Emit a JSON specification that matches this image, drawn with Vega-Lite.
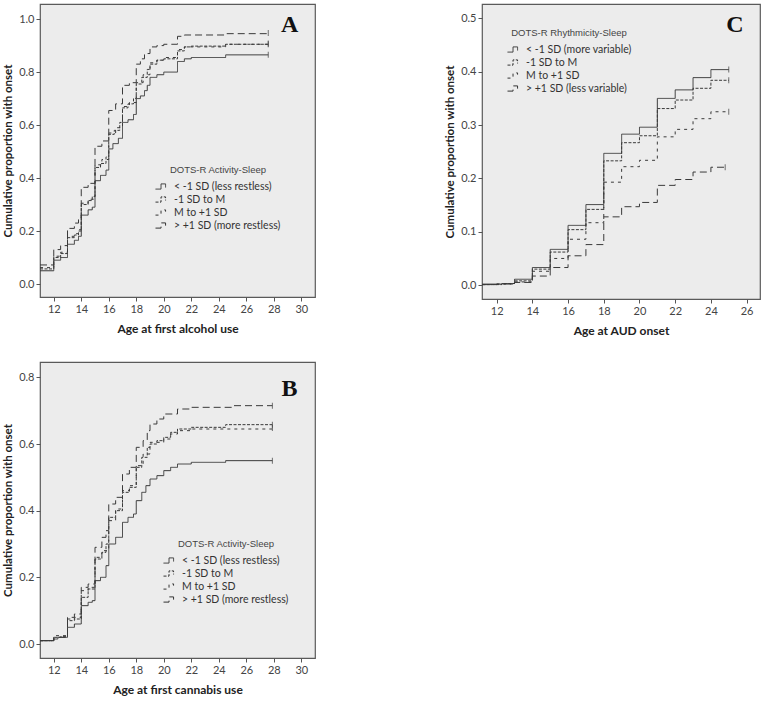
{
  "$schema": "https://vega.github.io/schema/vega-lite/v6.json",
  "background": "white",
  "padding": {"left": 2, "top": 3, "right": 0, "bottom": 2},
  "config": {
    "view": {"fill": "#ececec", "stroke": "#5a5a5a", "strokeWidth": 1.2},
    "font": "Lato",
    "axis": {"grid": false, "domain": false, "tickColor": "#555", "tickSize": 4, "tickCount": 30, "labelFont": "Lato", "labelFontSize": 11, "labelColor": "#444", "labelPadding": 2, "labelOverlap": false, "titleFont": "Lato", "titleFontSize": 11.5, "titleFontWeight": "bold", "titleColor": "#222"},
    "axisX": {"titlePadding": 9, "titleFontSize": 12},
    "axisY": {"titlePadding": 5},
    "legend": {"titleFont": "Liberation Sans", "titleFontSize": 9.5, "titleFontWeight": "normal", "titleColor": "#444", "titleAnchor": "middle", "labelFont": "Lato", "labelFontSize": 10.5, "labelColor": "#333", "symbolType": "M-1,0.4H-0.15V-0.4H0.55V0.15", "symbolSize": 169, "symbolStrokeWidth": 1, "symbolStrokeColor": "#333", "symbolFillColor": "transparent", "rowPadding": 0, "labelOffset": 5, "titlePadding": 5}
  },
  "datasets": {
    "alc": [
      {"g": "< -1 SD (less restless)", "age": 11, "p": 0.05},
      {"g": "< -1 SD (less restless)", "age": 12, "p": 0.09},
      {"g": "< -1 SD (less restless)", "age": 12.5, "p": 0.1},
      {"g": "< -1 SD (less restless)", "age": 13, "p": 0.15},
      {"g": "< -1 SD (less restless)", "age": 13.5, "p": 0.165},
      {"g": "< -1 SD (less restless)", "age": 13.8, "p": 0.18},
      {"g": "< -1 SD (less restless)", "age": 14, "p": 0.26},
      {"g": "< -1 SD (less restless)", "age": 14.5, "p": 0.28},
      {"g": "< -1 SD (less restless)", "age": 14.8, "p": 0.29},
      {"g": "< -1 SD (less restless)", "age": 15, "p": 0.39},
      {"g": "< -1 SD (less restless)", "age": 15.4, "p": 0.41},
      {"g": "< -1 SD (less restless)", "age": 15.8, "p": 0.43},
      {"g": "< -1 SD (less restless)", "age": 16, "p": 0.51},
      {"g": "< -1 SD (less restless)", "age": 16.3, "p": 0.53},
      {"g": "< -1 SD (less restless)", "age": 16.7, "p": 0.55},
      {"g": "< -1 SD (less restless)", "age": 17, "p": 0.61},
      {"g": "< -1 SD (less restless)", "age": 17.4, "p": 0.62},
      {"g": "< -1 SD (less restless)", "age": 17.8, "p": 0.64},
      {"g": "< -1 SD (less restless)", "age": 18, "p": 0.7},
      {"g": "< -1 SD (less restless)", "age": 18.3, "p": 0.71},
      {"g": "< -1 SD (less restless)", "age": 18.6, "p": 0.73},
      {"g": "< -1 SD (less restless)", "age": 18.8, "p": 0.75},
      {"g": "< -1 SD (less restless)", "age": 19, "p": 0.78},
      {"g": "< -1 SD (less restless)", "age": 19.5, "p": 0.79},
      {"g": "< -1 SD (less restless)", "age": 20, "p": 0.8},
      {"g": "< -1 SD (less restless)", "age": 21, "p": 0.84},
      {"g": "< -1 SD (less restless)", "age": 21.5, "p": 0.85},
      {"g": "< -1 SD (less restless)", "age": 22, "p": 0.855},
      {"g": "< -1 SD (less restless)", "age": 24.5, "p": 0.865},
      {"g": "< -1 SD (less restless)", "age": 27.6, "p": 0.865},
      {"g": "-1 SD to M", "age": 11, "p": 0.057},
      {"g": "-1 SD to M", "age": 12, "p": 0.1},
      {"g": "-1 SD to M", "age": 12.5, "p": 0.115},
      {"g": "-1 SD to M", "age": 13, "p": 0.175},
      {"g": "-1 SD to M", "age": 13.5, "p": 0.185},
      {"g": "-1 SD to M", "age": 13.8, "p": 0.2},
      {"g": "-1 SD to M", "age": 14, "p": 0.3},
      {"g": "-1 SD to M", "age": 14.5, "p": 0.315},
      {"g": "-1 SD to M", "age": 14.8, "p": 0.33},
      {"g": "-1 SD to M", "age": 15, "p": 0.44},
      {"g": "-1 SD to M", "age": 15.4, "p": 0.455},
      {"g": "-1 SD to M", "age": 15.8, "p": 0.48},
      {"g": "-1 SD to M", "age": 16, "p": 0.565},
      {"g": "-1 SD to M", "age": 16.4, "p": 0.58},
      {"g": "-1 SD to M", "age": 16.8, "p": 0.61},
      {"g": "-1 SD to M", "age": 17, "p": 0.665},
      {"g": "-1 SD to M", "age": 17.4, "p": 0.68},
      {"g": "-1 SD to M", "age": 17.8, "p": 0.7},
      {"g": "-1 SD to M", "age": 18, "p": 0.755},
      {"g": "-1 SD to M", "age": 18.4, "p": 0.78},
      {"g": "-1 SD to M", "age": 18.8, "p": 0.81},
      {"g": "-1 SD to M", "age": 19, "p": 0.83},
      {"g": "-1 SD to M", "age": 19.5, "p": 0.845},
      {"g": "-1 SD to M", "age": 20, "p": 0.85},
      {"g": "-1 SD to M", "age": 21, "p": 0.88},
      {"g": "-1 SD to M", "age": 21.5, "p": 0.895},
      {"g": "-1 SD to M", "age": 22, "p": 0.898},
      {"g": "-1 SD to M", "age": 24.5, "p": 0.905},
      {"g": "-1 SD to M", "age": 27.6, "p": 0.905},
      {"g": "M to +1 SD", "age": 11, "p": 0.062},
      {"g": "M to +1 SD", "age": 12, "p": 0.105},
      {"g": "M to +1 SD", "age": 12.5, "p": 0.12},
      {"g": "M to +1 SD", "age": 13, "p": 0.18},
      {"g": "M to +1 SD", "age": 13.5, "p": 0.19},
      {"g": "M to +1 SD", "age": 13.8, "p": 0.205},
      {"g": "M to +1 SD", "age": 14, "p": 0.305},
      {"g": "M to +1 SD", "age": 14.5, "p": 0.32},
      {"g": "M to +1 SD", "age": 15, "p": 0.45},
      {"g": "M to +1 SD", "age": 15.5, "p": 0.47},
      {"g": "M to +1 SD", "age": 16, "p": 0.57},
      {"g": "M to +1 SD", "age": 16.5, "p": 0.59},
      {"g": "M to +1 SD", "age": 17, "p": 0.67},
      {"g": "M to +1 SD", "age": 17.5, "p": 0.685},
      {"g": "M to +1 SD", "age": 18, "p": 0.76},
      {"g": "M to +1 SD", "age": 18.5, "p": 0.79},
      {"g": "M to +1 SD", "age": 19, "p": 0.835},
      {"g": "M to +1 SD", "age": 19.5, "p": 0.845},
      {"g": "M to +1 SD", "age": 20, "p": 0.855},
      {"g": "M to +1 SD", "age": 21, "p": 0.885},
      {"g": "M to +1 SD", "age": 21.5, "p": 0.895},
      {"g": "M to +1 SD", "age": 24.5, "p": 0.905},
      {"g": "M to +1 SD", "age": 27.6, "p": 0.908},
      {"g": "> +1 SD (more restless)", "age": 11, "p": 0.072},
      {"g": "> +1 SD (more restless)", "age": 12, "p": 0.13},
      {"g": "> +1 SD (more restless)", "age": 12.5, "p": 0.145},
      {"g": "> +1 SD (more restless)", "age": 13, "p": 0.21},
      {"g": "> +1 SD (more restless)", "age": 13.5, "p": 0.23},
      {"g": "> +1 SD (more restless)", "age": 13.8, "p": 0.25},
      {"g": "> +1 SD (more restless)", "age": 14, "p": 0.365},
      {"g": "> +1 SD (more restless)", "age": 14.5, "p": 0.38},
      {"g": "> +1 SD (more restless)", "age": 15, "p": 0.52},
      {"g": "> +1 SD (more restless)", "age": 15.5, "p": 0.54},
      {"g": "> +1 SD (more restless)", "age": 16, "p": 0.655},
      {"g": "> +1 SD (more restless)", "age": 16.5, "p": 0.68},
      {"g": "> +1 SD (more restless)", "age": 17, "p": 0.75},
      {"g": "> +1 SD (more restless)", "age": 17.5, "p": 0.76},
      {"g": "> +1 SD (more restless)", "age": 18, "p": 0.83},
      {"g": "> +1 SD (more restless)", "age": 18.3, "p": 0.85},
      {"g": "> +1 SD (more restless)", "age": 18.6, "p": 0.87},
      {"g": "> +1 SD (more restless)", "age": 19, "p": 0.895},
      {"g": "> +1 SD (more restless)", "age": 19.5, "p": 0.9},
      {"g": "> +1 SD (more restless)", "age": 20, "p": 0.905},
      {"g": "> +1 SD (more restless)", "age": 21, "p": 0.935},
      {"g": "> +1 SD (more restless)", "age": 21.5, "p": 0.94},
      {"g": "> +1 SD (more restless)", "age": 24.5, "p": 0.945},
      {"g": "> +1 SD (more restless)", "age": 27.6, "p": 0.948}
    ],
    "can": [
      {"g": "< -1 SD (less restless)", "age": 11, "p": 0.01},
      {"g": "< -1 SD (less restless)", "age": 12, "p": 0.015},
      {"g": "< -1 SD (less restless)", "age": 12.3, "p": 0.02},
      {"g": "< -1 SD (less restless)", "age": 13, "p": 0.05},
      {"g": "< -1 SD (less restless)", "age": 13.5, "p": 0.06},
      {"g": "< -1 SD (less restless)", "age": 14, "p": 0.115},
      {"g": "< -1 SD (less restless)", "age": 14.5, "p": 0.125},
      {"g": "< -1 SD (less restless)", "age": 14.8, "p": 0.13},
      {"g": "< -1 SD (less restless)", "age": 15, "p": 0.19},
      {"g": "< -1 SD (less restless)", "age": 15.4, "p": 0.2},
      {"g": "< -1 SD (less restless)", "age": 15.8, "p": 0.235},
      {"g": "< -1 SD (less restless)", "age": 16, "p": 0.3},
      {"g": "< -1 SD (less restless)", "age": 16.5, "p": 0.32},
      {"g": "< -1 SD (less restless)", "age": 17, "p": 0.365},
      {"g": "< -1 SD (less restless)", "age": 17.4, "p": 0.38},
      {"g": "< -1 SD (less restless)", "age": 17.8, "p": 0.39},
      {"g": "< -1 SD (less restless)", "age": 18, "p": 0.43},
      {"g": "< -1 SD (less restless)", "age": 18.4, "p": 0.455},
      {"g": "< -1 SD (less restless)", "age": 18.7, "p": 0.475},
      {"g": "< -1 SD (less restless)", "age": 19, "p": 0.495},
      {"g": "< -1 SD (less restless)", "age": 19.5, "p": 0.505},
      {"g": "< -1 SD (less restless)", "age": 20, "p": 0.52},
      {"g": "< -1 SD (less restless)", "age": 20.5, "p": 0.53},
      {"g": "< -1 SD (less restless)", "age": 21, "p": 0.54},
      {"g": "< -1 SD (less restless)", "age": 22, "p": 0.545},
      {"g": "< -1 SD (less restless)", "age": 24.5, "p": 0.55},
      {"g": "< -1 SD (less restless)", "age": 27.9, "p": 0.55},
      {"g": "-1 SD to M", "age": 11, "p": 0.01},
      {"g": "-1 SD to M", "age": 12, "p": 0.02},
      {"g": "-1 SD to M", "age": 12.5, "p": 0.022},
      {"g": "-1 SD to M", "age": 13, "p": 0.07},
      {"g": "-1 SD to M", "age": 13.5, "p": 0.075},
      {"g": "-1 SD to M", "age": 14, "p": 0.14},
      {"g": "-1 SD to M", "age": 14.5, "p": 0.165},
      {"g": "-1 SD to M", "age": 15, "p": 0.255},
      {"g": "-1 SD to M", "age": 15.5, "p": 0.275},
      {"g": "-1 SD to M", "age": 15.8, "p": 0.3},
      {"g": "-1 SD to M", "age": 16, "p": 0.38},
      {"g": "-1 SD to M", "age": 16.5, "p": 0.4},
      {"g": "-1 SD to M", "age": 17, "p": 0.455},
      {"g": "-1 SD to M", "age": 17.5, "p": 0.47},
      {"g": "-1 SD to M", "age": 18, "p": 0.53},
      {"g": "-1 SD to M", "age": 18.4, "p": 0.56},
      {"g": "-1 SD to M", "age": 18.8, "p": 0.59},
      {"g": "-1 SD to M", "age": 19, "p": 0.6},
      {"g": "-1 SD to M", "age": 19.5, "p": 0.61},
      {"g": "-1 SD to M", "age": 20, "p": 0.62},
      {"g": "-1 SD to M", "age": 20.5, "p": 0.635},
      {"g": "-1 SD to M", "age": 21, "p": 0.645},
      {"g": "-1 SD to M", "age": 22, "p": 0.65},
      {"g": "-1 SD to M", "age": 24.5, "p": 0.658},
      {"g": "-1 SD to M", "age": 27.9, "p": 0.658},
      {"g": "M to +1 SD", "age": 11, "p": 0.01},
      {"g": "M to +1 SD", "age": 12, "p": 0.025},
      {"g": "M to +1 SD", "age": 13, "p": 0.075},
      {"g": "M to +1 SD", "age": 13.5, "p": 0.08},
      {"g": "M to +1 SD", "age": 14, "p": 0.16},
      {"g": "M to +1 SD", "age": 14.5, "p": 0.17},
      {"g": "M to +1 SD", "age": 15, "p": 0.26},
      {"g": "M to +1 SD", "age": 15.5, "p": 0.28},
      {"g": "M to +1 SD", "age": 16, "p": 0.37},
      {"g": "M to +1 SD", "age": 16.5, "p": 0.405},
      {"g": "M to +1 SD", "age": 17, "p": 0.46},
      {"g": "M to +1 SD", "age": 17.5, "p": 0.475},
      {"g": "M to +1 SD", "age": 18, "p": 0.535},
      {"g": "M to +1 SD", "age": 18.5, "p": 0.57},
      {"g": "M to +1 SD", "age": 19, "p": 0.605},
      {"g": "M to +1 SD", "age": 20, "p": 0.615},
      {"g": "M to +1 SD", "age": 20.5, "p": 0.63},
      {"g": "M to +1 SD", "age": 21, "p": 0.64},
      {"g": "M to +1 SD", "age": 22, "p": 0.645},
      {"g": "M to +1 SD", "age": 27.9, "p": 0.648},
      {"g": "> +1 SD (more restless)", "age": 11, "p": 0.01},
      {"g": "> +1 SD (more restless)", "age": 12, "p": 0.02},
      {"g": "> +1 SD (more restless)", "age": 13, "p": 0.08},
      {"g": "> +1 SD (more restless)", "age": 13.5, "p": 0.09},
      {"g": "> +1 SD (more restless)", "age": 14, "p": 0.17},
      {"g": "> +1 SD (more restless)", "age": 14.5, "p": 0.18},
      {"g": "> +1 SD (more restless)", "age": 15, "p": 0.29},
      {"g": "> +1 SD (more restless)", "age": 15.5, "p": 0.32},
      {"g": "> +1 SD (more restless)", "age": 15.8, "p": 0.34},
      {"g": "> +1 SD (more restless)", "age": 16, "p": 0.42},
      {"g": "> +1 SD (more restless)", "age": 16.5, "p": 0.44},
      {"g": "> +1 SD (more restless)", "age": 17, "p": 0.51},
      {"g": "> +1 SD (more restless)", "age": 17.5, "p": 0.53},
      {"g": "> +1 SD (more restless)", "age": 18, "p": 0.59},
      {"g": "> +1 SD (more restless)", "age": 18.5, "p": 0.61},
      {"g": "> +1 SD (more restless)", "age": 18.8, "p": 0.64},
      {"g": "> +1 SD (more restless)", "age": 19, "p": 0.66},
      {"g": "> +1 SD (more restless)", "age": 19.5, "p": 0.675},
      {"g": "> +1 SD (more restless)", "age": 20, "p": 0.69},
      {"g": "> +1 SD (more restless)", "age": 21, "p": 0.705},
      {"g": "> +1 SD (more restless)", "age": 22, "p": 0.71},
      {"g": "> +1 SD (more restless)", "age": 25, "p": 0.715},
      {"g": "> +1 SD (more restless)", "age": 27.9, "p": 0.715}
    ],
    "aud": [
      {"g": "< -1 SD (more variable)", "age": 11.2, "p": 0.002},
      {"g": "< -1 SD (more variable)", "age": 12.3, "p": 0.003},
      {"g": "< -1 SD (more variable)", "age": 13, "p": 0.011},
      {"g": "< -1 SD (more variable)", "age": 14, "p": 0.033},
      {"g": "< -1 SD (more variable)", "age": 15, "p": 0.067},
      {"g": "< -1 SD (more variable)", "age": 16, "p": 0.112},
      {"g": "< -1 SD (more variable)", "age": 17, "p": 0.151},
      {"g": "< -1 SD (more variable)", "age": 18, "p": 0.247},
      {"g": "< -1 SD (more variable)", "age": 19, "p": 0.283},
      {"g": "< -1 SD (more variable)", "age": 20, "p": 0.296},
      {"g": "< -1 SD (more variable)", "age": 21, "p": 0.35},
      {"g": "< -1 SD (more variable)", "age": 22, "p": 0.366},
      {"g": "< -1 SD (more variable)", "age": 23, "p": 0.389},
      {"g": "< -1 SD (more variable)", "age": 24, "p": 0.404},
      {"g": "< -1 SD (more variable)", "age": 25, "p": 0.404},
      {"g": "-1 SD to M", "age": 11.2, "p": 0.001},
      {"g": "-1 SD to M", "age": 12.3, "p": 0.003},
      {"g": "-1 SD to M", "age": 13, "p": 0.008},
      {"g": "-1 SD to M", "age": 14, "p": 0.03},
      {"g": "-1 SD to M", "age": 15, "p": 0.062},
      {"g": "-1 SD to M", "age": 16, "p": 0.104},
      {"g": "-1 SD to M", "age": 17, "p": 0.142},
      {"g": "-1 SD to M", "age": 18, "p": 0.233},
      {"g": "-1 SD to M", "age": 19, "p": 0.267},
      {"g": "-1 SD to M", "age": 20, "p": 0.28},
      {"g": "-1 SD to M", "age": 21, "p": 0.331},
      {"g": "-1 SD to M", "age": 22, "p": 0.347},
      {"g": "-1 SD to M", "age": 23, "p": 0.369},
      {"g": "-1 SD to M", "age": 24, "p": 0.384},
      {"g": "-1 SD to M", "age": 25, "p": 0.384},
      {"g": "M to +1 SD", "age": 11.2, "p": 0.001},
      {"g": "M to +1 SD", "age": 12, "p": 0.002},
      {"g": "M to +1 SD", "age": 13, "p": 0.006},
      {"g": "M to +1 SD", "age": 14, "p": 0.026},
      {"g": "M to +1 SD", "age": 15, "p": 0.05},
      {"g": "M to +1 SD", "age": 16, "p": 0.086},
      {"g": "M to +1 SD", "age": 17, "p": 0.117},
      {"g": "M to +1 SD", "age": 18, "p": 0.193},
      {"g": "M to +1 SD", "age": 19, "p": 0.222},
      {"g": "M to +1 SD", "age": 20, "p": 0.234},
      {"g": "M to +1 SD", "age": 21, "p": 0.278},
      {"g": "M to +1 SD", "age": 22, "p": 0.292},
      {"g": "M to +1 SD", "age": 23, "p": 0.312},
      {"g": "M to +1 SD", "age": 24, "p": 0.325},
      {"g": "M to +1 SD", "age": 25, "p": 0.325},
      {"g": "> +1 SD (less variable)", "age": 11.2, "p": 0.001},
      {"g": "> +1 SD (less variable)", "age": 12, "p": 0.002},
      {"g": "> +1 SD (less variable)", "age": 13, "p": 0.005},
      {"g": "> +1 SD (less variable)", "age": 14, "p": 0.017},
      {"g": "> +1 SD (less variable)", "age": 15, "p": 0.033},
      {"g": "> +1 SD (less variable)", "age": 16, "p": 0.055},
      {"g": "> +1 SD (less variable)", "age": 17, "p": 0.076},
      {"g": "> +1 SD (less variable)", "age": 18, "p": 0.128},
      {"g": "> +1 SD (less variable)", "age": 19, "p": 0.147},
      {"g": "> +1 SD (less variable)", "age": 20, "p": 0.155},
      {"g": "> +1 SD (less variable)", "age": 21, "p": 0.187},
      {"g": "> +1 SD (less variable)", "age": 22, "p": 0.198},
      {"g": "> +1 SD (less variable)", "age": 23, "p": 0.212},
      {"g": "> +1 SD (less variable)", "age": 24, "p": 0.221},
      {"g": "> +1 SD (less variable)", "age": 24.8, "p": 0.221}
    ]
  },
  "columns": 2,
  "spacing": {"column": 128, "row": 24},
  "resolve": {"scale": {"strokeDash": "independent"}, "legend": {"strokeDash": "independent"}},
  "concat": [
    {
      "width": 275,
      "height": 293,
      "layer": [
        {
          "data": {"name": "alc"},
          "mark": {"type": "line", "interpolate": "step-after", "color": "#3a3a3a", "strokeWidth": 1},
          "encoding": {
            "x": {"field": "age", "type": "quantitative", "scale": {"domain": [11, 31], "nice": false, "zero": false}, "axis": {"values": [12, 14, 16, 18, 20, 22, 24, 26, 28, 30], "format": "d", "tickCount": 30, "labelOverlap": false, "title": "Age at first alcohol use"}},
            "y": {"field": "p", "type": "quantitative", "scale": {"domain": [-0.049, 1.057], "nice": false, "zero": false}, "axis": {"values": [0, 0.2, 0.4, 0.6, 0.8, 1.0], "tickCount": 30, "labelOverlap": false, "format": ".1f", "title": "Cumulative proportion with onset"}},
            "strokeDash": {"field": "g", "type": "nominal", "scale": {"domain": ["< -1 SD (less restless)", "-1 SD to M", "M to +1 SD", "> +1 SD (more restless)"], "range": [[1, 0], [3, 1.5], [3, 4], [7, 4]]}, "legend": {"title": "DOTS-R Activity-Sleep", "orient": "none", "legendX": 115, "legendY": 161}}
          }
        },
        {
          "data": {"name": "alc"},
          "transform": [
            {"joinaggregate": [{"op": "max", "field": "age", "as": "amax"}], "groupby": ["g"]},
            {"filter": "datum.age == datum.amax"}
          ],
          "mark": {"type": "tick", "orient": "vertical", "size": 6, "thickness": 1, "color": "#3a3a3a"},
          "encoding": {
            "x": {"field": "age", "type": "quantitative"},
            "y": {"field": "p", "type": "quantitative"}
          }
        },
        {
          "data": {"values": [{"lab": "A", "age": 29.15, "p": 0.977}]},
          "mark": {"type": "text", "font": "Liberation Serif", "fontWeight": "bold", "fontSize": 24, "color": "#111"},
          "encoding": {
            "x": {"field": "age", "type": "quantitative"},
            "y": {"field": "p", "type": "quantitative"},
            "text": {"field": "lab"}
          }
        }
      ]
    },
    {
      "width": 278,
      "height": 295,
      "layer": [
        {
          "data": {"name": "aud"},
          "mark": {"type": "line", "interpolate": "step-after", "color": "#3a3a3a", "strokeWidth": 1},
          "encoding": {
            "x": {"field": "age", "type": "quantitative", "scale": {"domain": [11.18, 26.75], "nice": false, "zero": false}, "axis": {"values": [12, 14, 16, 18, 20, 22, 24, 26], "format": "d", "tickCount": 30, "labelOverlap": false, "title": "Age at AUD onset"}},
            "y": {"field": "p", "type": "quantitative", "scale": {"domain": [-0.026, 0.527], "nice": false, "zero": false}, "axis": {"values": [0, 0.1, 0.2, 0.3, 0.4, 0.5], "tickCount": 30, "labelOverlap": false, "format": ".1f", "title": "Cumulative proportion with onset"}},
            "strokeDash": {"field": "g", "type": "nominal", "scale": {"domain": ["< -1 SD (more variable)", "-1 SD to M", "M to +1 SD", "> +1 SD (less variable)"], "range": [[1, 0], [3, 1.5], [3, 4], [7, 4]]}, "legend": {"title": "DOTS-R Rhythmicity-Sleep", "orient": "none", "legendX": 25, "legendY": 24}}
          }
        },
        {
          "data": {"name": "aud"},
          "transform": [
            {"joinaggregate": [{"op": "max", "field": "age", "as": "amax"}], "groupby": ["g"]},
            {"filter": "datum.age == datum.amax"}
          ],
          "mark": {"type": "tick", "orient": "vertical", "size": 6, "thickness": 1, "color": "#3a3a3a"},
          "encoding": {
            "x": {"field": "age", "type": "quantitative"},
            "y": {"field": "p", "type": "quantitative"}
          }
        },
        {
          "data": {"values": [{"lab": "C", "age": 25.34, "p": 0.487}]},
          "mark": {"type": "text", "font": "Liberation Serif", "fontWeight": "bold", "fontSize": 24, "color": "#111"},
          "encoding": {
            "x": {"field": "age", "type": "quantitative"},
            "y": {"field": "p", "type": "quantitative"},
            "text": {"field": "lab"}
          }
        }
      ]
    },
    {
      "width": 275,
      "height": 296,
      "layer": [
        {
          "data": {"name": "can"},
          "mark": {"type": "line", "interpolate": "step-after", "color": "#3a3a3a", "strokeWidth": 1},
          "encoding": {
            "x": {"field": "age", "type": "quantitative", "scale": {"domain": [11, 31], "nice": false, "zero": false}, "axis": {"values": [12, 14, 16, 18, 20, 22, 24, 26, 28, 30], "format": "d", "tickCount": 30, "labelOverlap": false, "title": "Age at first cannabis use"}},
            "y": {"field": "p", "type": "quantitative", "scale": {"domain": [-0.042, 0.846], "nice": false, "zero": false}, "axis": {"values": [0, 0.2, 0.4, 0.6, 0.8], "tickCount": 30, "labelOverlap": false, "format": ".1f", "title": "Cumulative proportion with onset"}},
            "strokeDash": {"field": "g", "type": "nominal", "scale": {"domain": ["< -1 SD (less restless)", "-1 SD to M", "M to +1 SD", "> +1 SD (more restless)"], "range": [[1, 0], [3, 1.5], [3, 4], [7, 4]]}, "legend": {"title": "DOTS-R Activity-Sleep", "orient": "none", "legendX": 123, "legendY": 177}}
          }
        },
        {
          "data": {"name": "can"},
          "transform": [
            {"joinaggregate": [{"op": "max", "field": "age", "as": "amax"}], "groupby": ["g"]},
            {"filter": "datum.age == datum.amax"}
          ],
          "mark": {"type": "tick", "orient": "vertical", "size": 6, "thickness": 1, "color": "#3a3a3a"},
          "encoding": {
            "x": {"field": "age", "type": "quantitative"},
            "y": {"field": "p", "type": "quantitative"}
          }
        },
        {
          "data": {"values": [{"lab": "B", "age": 29.15, "p": 0.766}]},
          "mark": {"type": "text", "font": "Liberation Serif", "fontWeight": "bold", "fontSize": 24, "color": "#111"},
          "encoding": {
            "x": {"field": "age", "type": "quantitative"},
            "y": {"field": "p", "type": "quantitative"},
            "text": {"field": "lab"}
          }
        }
      ]
    }
  ]
}
